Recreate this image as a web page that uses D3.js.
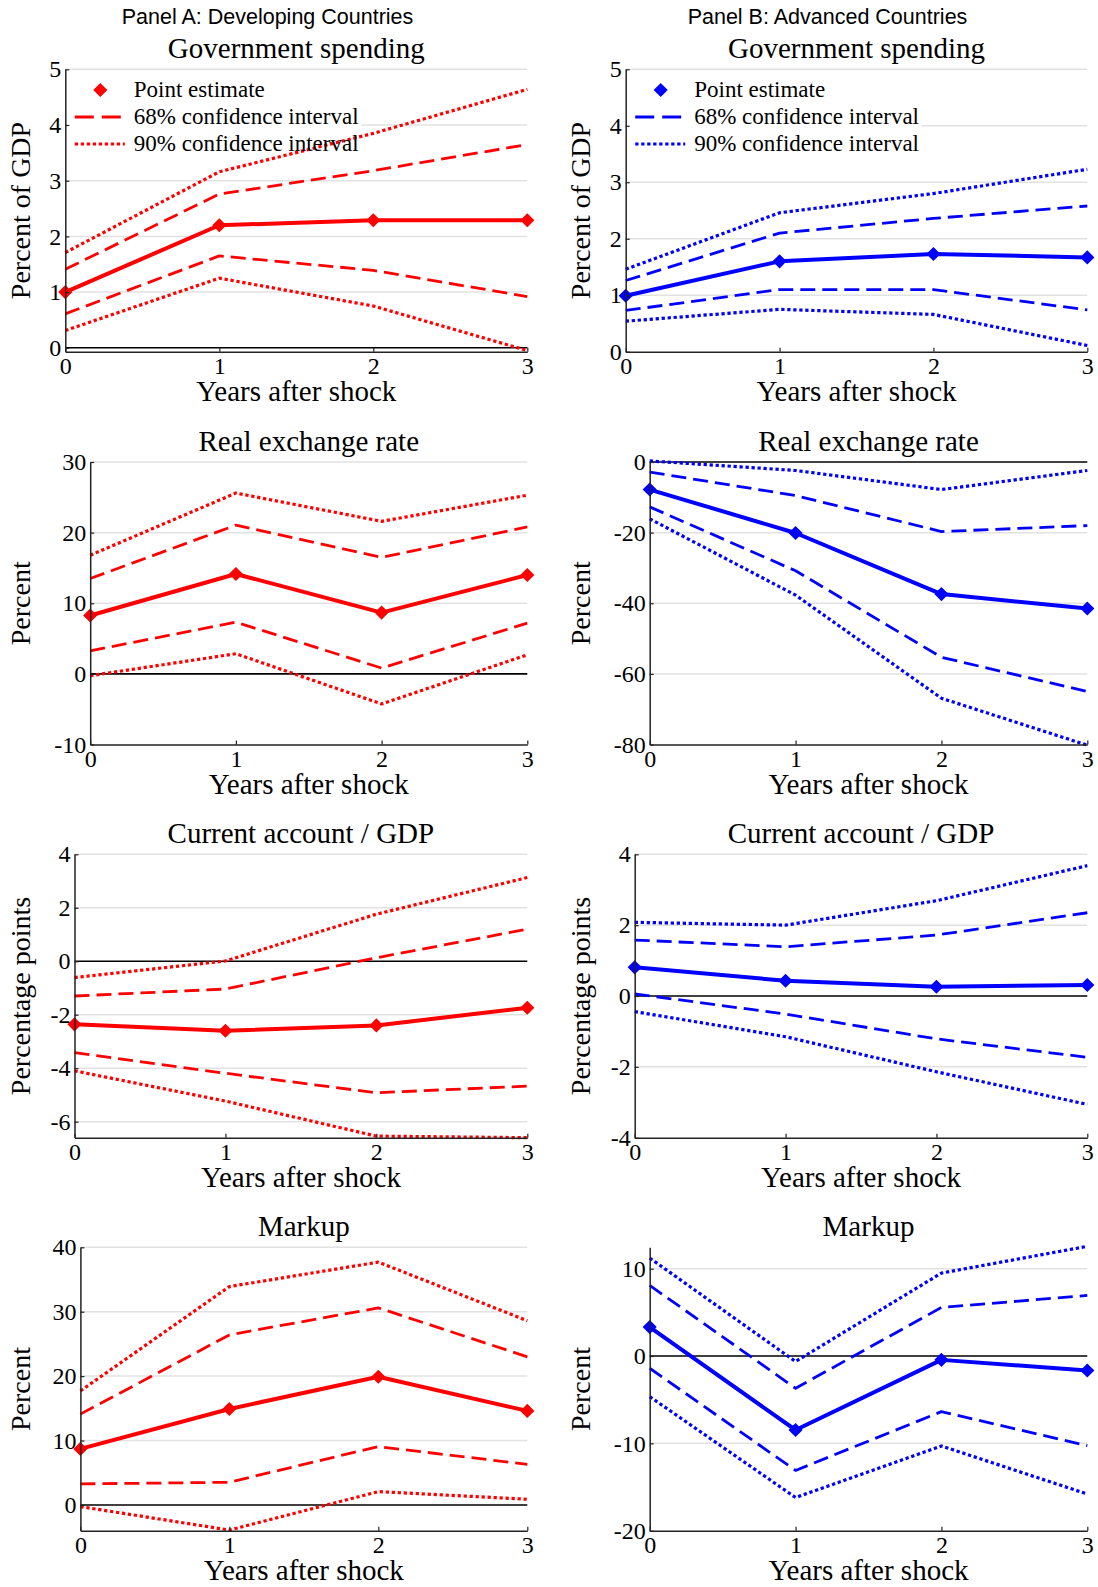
<!DOCTYPE html>
<html lang="en">
<head>
<meta charset="UTF-8"/>
<title>Fiscal shock responses</title>
<script src="https://d3js.org/d3.v7.min.js"></script>
<style>
    body { margin: 0; background: #fff; }
    text { font-family: "Liberation Serif", "Times New Roman", serif; fill: #000; }
</style>
</head>
<body>
<script>
    // Horizon (years after shock)
    var years = [0, 1, 2, 3];

    // Panel A: Developing countries
    var aGovEst  = [1.00, 2.20, 2.29, 2.29];
    var aGovHi68 = [1.41, 2.76, 3.18, 3.65];
    var aGovLo68 = [0.61, 1.65, 1.39, 0.92];
    var aGovHi90 = [1.71, 3.16, 3.85, 4.64];
    var aGovLo90 = [0.31, 1.25, 0.75, -0.05];

    var aRerEst  = [8.26, 14.14, 8.68, 14.0];
    var aRerHi68 = [13.5, 21.06, 16.5, 20.8];
    var aRerLo68 = [3.27, 7.32, 0.82, 7.18];
    var aRerHi90 = [16.8, 25.6, 21.6, 25.3];
    var aRerLo90 = [-0.26, 2.85, -4.26, 2.7];

    var aCaEst  = [-2.36, -2.60, -2.40, -1.74];
    var aCaHi68 = [-1.30, -1.04, 0.13, 1.20];
    var aCaLo68 = [-3.42, -4.19, -4.92, -4.67];
    var aCaHi90 = [-0.61, 0.01, 1.76, 3.13];
    var aCaLo90 = [-4.10, -5.23, -6.54, -6.60];

    var aMkEst  = [8.7, 14.9, 19.9, 14.6];
    var aMkHi68 = [14.1, 26.4, 30.6, 23.0];
    var aMkLo68 = [3.26, 3.52, 9.06, 6.3];
    var aMkHi90 = [17.7, 33.9, 37.7, 28.6];
    var aMkLo90 = [-0.26, -3.9, 2.07, 0.88];

    // Panel B: Advanced countries
    var bGovEst  = [0.99, 1.60, 1.73, 1.67];
    var bGovHi68 = [1.26, 2.10, 2.36, 2.58];
    var bGovLo68 = [0.73, 1.10, 1.10, 0.74];
    var bGovHi90 = [1.46, 2.46, 2.80, 3.23];
    var bGovLo90 = [0.54, 0.75, 0.66, 0.11];

    var bRerEst  = [-7.8, -20.1, -37.4, -41.5];
    var bRerHi68 = [-2.85, -9.5, -19.7, -18.0];
    var bRerLo68 = [-12.7, -30.8, -55.3, -65.0];
    var bRerHi90 = [0.3, -2.4, -7.8, -2.4];
    var bRerLo90 = [-16.1, -37.7, -66.9, -80.2];

    var bCaEst  = [0.81, 0.43, 0.26, 0.31];
    var bCaHi68 = [1.58, 1.39, 1.72, 2.35];
    var bCaLo68 = [0.06, -0.51, -1.21, -1.73];
    var bCaHi90 = [2.08, 2.00, 2.69, 3.68];
    var bCaLo90 = [-0.44, -1.15, -2.14, -3.06];

    var bMkEst  = [3.31, -8.47, -0.44, -1.66];
    var bMkHi68 = [8.09, -3.69, 5.56, 6.94];
    var bMkLo68 = [-1.4, -13.1, -6.37, -10.27];
    var bMkHi90 = [11.22, -0.63, 9.5, 12.56];
    var bMkLo90 = [-4.65, -16.2, -10.3, -15.8];

    // Y tick labels
    var aGovTicks = [0, 1, 2, 3, 4, 5];
    var bGovTicks = [0, 1, 2, 3, 4, 5];
    var aRerTicks = [-10, 0, 10, 20, 30];
    var bRerTicks = [-80, -60, -40, -20, 0];
    var aCaTicks  = [-6, -4, -2, 0, 2, 4];
    var bCaTicks  = [-4, -2, 0, 2, 4];
    var aMkTicks  = [0, 10, 20, 30, 40];
    var bMkTicks  = [-20, -10, 0, 10];

    var panelHeaders = ["Panel A: Developing Countries", "Panel B: Advanced Countries"];
    var legendLabels = ["Point estimate", "68% confidence interval", "90% confidence interval"];
    var colours = ["#ff0000", "#0000ff"];

    // Layout
    var w = 1098, h = 1587;
    var rowTop = [69.3, 462, 854.3, 1247.3];
    var rowBottom = [351.7, 744.5, 1137.7, 1530.7];
    var colRight = [527.3, 1087.3];
    var colHeaderX = [267.5, 827.5];
    var colYLabelX = [30, 589.5];

    var panels = [
        { col: 0, row: 0, left: 65.3, title: "Government spending", ylab: "Percent of GDP", domain: [-0.07, 5], ticks: aGovTicks,
          est: aGovEst, hi68: aGovHi68, lo68: aGovLo68, hi90: aGovHi90, lo90: aGovLo90, legend: true },
        { col: 1, row: 0, left: 625.7, title: "Government spending", ylab: "Percent of GDP", domain: [0, 5], ticks: bGovTicks,
          est: bGovEst, hi68: bGovHi68, lo68: bGovLo68, hi90: bGovHi90, lo90: bGovLo90, legend: true },
        { col: 0, row: 1, left: 90.2, title: "Real exchange rate", ylab: "Percent", domain: [-10, 30], ticks: aRerTicks,
          est: aRerEst, hi68: aRerHi68, lo68: aRerLo68, hi90: aRerHi90, lo90: aRerLo90 },
        { col: 1, row: 1, left: 649.7, title: "Real exchange rate", ylab: "Percent", domain: [-80, 0], ticks: bRerTicks,
          est: bRerEst, hi68: bRerHi68, lo68: bRerLo68, hi90: bRerHi90, lo90: bRerLo90 },
        { col: 0, row: 2, left: 74.5, title: "Current account / GDP", ylab: "Percentage points", domain: [-6.6, 4], ticks: aCaTicks,
          est: aCaEst, hi68: aCaHi68, lo68: aCaLo68, hi90: aCaHi90, lo90: aCaLo90 },
        { col: 1, row: 2, left: 634.7, title: "Current account / GDP", ylab: "Percentage points", domain: [-4, 4], ticks: bCaTicks,
          est: bCaEst, hi68: bCaHi68, lo68: bCaLo68, hi90: bCaHi90, lo90: bCaLo90 },
        { col: 0, row: 3, left: 80.4, title: "Markup", ylab: "Percent", domain: [-4, 40], ticks: aMkTicks,
          est: aMkEst, hi68: aMkHi68, lo68: aMkLo68, hi90: aMkHi90, lo90: aMkLo90 },
        { col: 1, row: 3, left: 649.7, title: "Markup", ylab: "Percent", domain: [-20, 12.45], ticks: bMkTicks,
          est: bMkEst, hi68: bMkHi68, lo68: bMkLo68, hi90: bMkHi90, lo90: bMkLo90 }
    ];

    // Line styles
    var styles = {
        est:  { width: 4,   dash: null },
        d68:  { width: 2.8, dash: "15,7" },
        d90:  { width: 3.2, dash: "3.3,2.7" }
    };

    var svg = d3.select("body")
        .append("svg")
        .attr("width", w)
        .attr("height", h);

    // Column headers
    svg.selectAll(".header")
        .data(panelHeaders)
        .enter()
        .append("text")
        .attr("class", "header")
        .attr("x", (d, i) => colHeaderX[i])
        .attr("y", 24)
        .attr("text-anchor", "middle")
        .style("font-family", "'Liberation Sans', Arial, sans-serif")
        .style("font-size", "21.5px")
        .text(d => d);

    var diamond = d3.symbol(d3.symbolSquare, 100);

    panels.forEach(function (p) {
        var top = rowTop[p.row], bottom = rowBottom[p.row], right = colRight[p.col];
        var colour = colours[p.col];

        var xScale = d3.scaleLinear().domain([0, 3]).range([p.left, right]);
        var yScale = d3.scaleLinear().domain(p.domain).range([bottom, top]);

        var g = svg.append("g");

        // Gridlines
        g.selectAll(".grid")
            .data(p.ticks.filter(t => t !== 0 && t !== p.domain[0]))
            .enter()
            .append("line")
            .attr("x1", p.left).attr("x2", right)
            .attr("y1", d => yScale(d)).attr("y2", d => yScale(d))
            .attr("stroke", "#e2e2e2")
            .attr("stroke-width", 1.5);

        // Zero line
        if (p.domain[0] < 0 && p.domain[1] >= 0) {
            g.append("line")
                .attr("x1", p.left).attr("x2", right)
                .attr("y1", yScale(0)).attr("y2", yScale(0))
                .attr("stroke", "#000")
                .attr("stroke-width", 1.6);
        }

        // Legend background hides gridlines
        if (p.legend) {
            g.append("rect")
                .attr("x", p.left + 2).attr("y", 75)
                .attr("width", 294).attr("height", 80)
                .attr("fill", "#fff");
        }

        // Series
        var line = d3.line()
            .x((d, i) => xScale(years[i]))
            .y(d => yScale(d));

        var series = [
            { vals: p.hi90, s: styles.d90 },
            { vals: p.lo90, s: styles.d90 },
            { vals: p.hi68, s: styles.d68 },
            { vals: p.lo68, s: styles.d68 },
            { vals: p.est,  s: styles.est }
        ];

        g.selectAll(".series")
            .data(series)
            .enter()
            .append("path")
            .attr("d", d => line(d.vals))
            .attr("fill", "none")
            .attr("stroke", colour)
            .attr("stroke-width", d => d.s.width)
            .attr("stroke-dasharray", d => d.s.dash)
            .attr("stroke-linejoin", "round");

        g.selectAll(".marker")
            .data(p.est)
            .enter()
            .append("path")
            .attr("d", diamond)
            .attr("transform", (d, i) => `translate(${xScale(years[i])},${yScale(d)}) rotate(45)`)
            .attr("fill", colour);

        // Legend
        if (p.legend) {
            var lg = g.append("g").attr("transform", `translate(${p.left},0)`);
            lg.append("path")
                .attr("d", diamond)
                .attr("transform", "translate(35,90) rotate(45)")
                .attr("fill", colour);
            [{ s: styles.d68, dash: "19,8" }, { s: styles.d90, dash: styles.d90.dash }].forEach(function (e, i) {
                lg.append("line")
                    .attr("x1", 9.5).attr("x2", 59.5)
                    .attr("y1", 117 + 27 * i).attr("y2", 117 + 27 * i)
                    .attr("stroke", colour)
                    .attr("stroke-width", e.s.width)
                    .attr("stroke-dasharray", e.dash);
            });
            lg.selectAll(".legtext")
                .data(legendLabels)
                .enter()
                .append("text")
                .attr("x", 68.5)
                .attr("y", (d, i) => 97 + 27 * i)
                .style("font-size", "23px")
                .text(d => d);
        }

        // Axes
        var xAxis = d3.axisBottom(xScale)
            .tickValues(years)
            .tickSize(-4)
            .tickSizeOuter(0)
            .tickPadding(5)
            .tickFormat(d => String(d));

        var yAxis = d3.axisLeft(yScale)
            .tickValues(p.ticks)
            .tickSize(-4)
            .tickSizeOuter(0)
            .tickPadding(4)
            .tickFormat(d => String(d));

        var gx = g.append("g")
            .attr("transform", `translate(0,${bottom})`)
            .call(xAxis);
        var gy = g.append("g")
            .attr("transform", `translate(${p.left},0)`)
            .call(yAxis);

        [gx, gy].forEach(function (ax) {
            ax.select(".domain").attr("stroke", "#222").attr("stroke-width", 1.5);
            ax.selectAll(".tick line").attr("stroke", "#222").attr("stroke-width", 1.2);
            ax.selectAll(".tick text")
                .style("font-family", "'Liberation Serif', serif")
                .style("font-size", "24px")
                .attr("fill", "#000");
        });

        // Title and axis labels
        g.append("text")
            .attr("x", (p.left + right) / 2)
            .attr("y", top - 11)
            .attr("text-anchor", "middle")
            .style("font-size", "29px")
            .text(p.title);

        g.append("text")
            .attr("x", (p.left + right) / 2)
            .attr("y", bottom + 49)
            .attr("text-anchor", "middle")
            .style("font-size", "29px")
            .text("Years after shock");

        g.append("text")
            .attr("transform", `translate(${colYLabelX[p.col]},${(top + bottom) / 2}) rotate(-90)`)
            .attr("text-anchor", "middle")
            .style("font-size", "28px")
            .text(p.ylab);
    });
</script>
</body>
</html>
